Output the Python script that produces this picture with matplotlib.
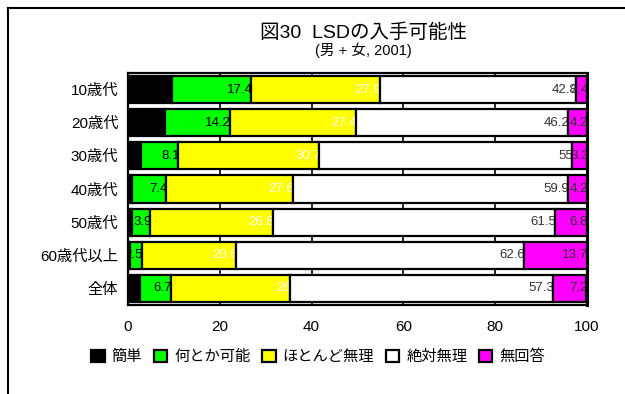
import numpy as np
import matplotlib
matplotlib.use('Agg')
import matplotlib.pyplot as plt
from matplotlib.patches import Patch
from matplotlib.lines import Line2D

plt.rcParams['font.family'] = ['Liberation Sans', 'Noto Sans CJK JP']

# LSD availability by age group, percent (male + female, 2001)
categories = ['10歳代', '20歳代', '30歳代', '40歳代', '50歳代', '60歳代以上', '全体']
easy = [9.5, 8.0, 2.9, 0.9, 0.9, 0.5, 2.6]
possible = [17.4, 14.2, 8.1, 7.4, 3.9, 2.5, 6.7]
hardly = [27.9, 27.4, 30.7, 27.6, 26.8, 20.6, 26.0]
impossible = [42.8, 46.2, 55.0, 59.9, 61.5, 62.6, 57.3]
no_answer = [2.4, 4.2, 3.3, 4.2, 6.8, 13.7, 7.2]

series_names = ['簡単', '何とか可能', 'ほとんど無理', '絶対無理', '無回答']
series = [easy, possible, hardly, impossible, no_answer]
colors = ['#000000', '#00ff00', '#ffff00', '#ffffff', '#ff00ff']
text_colors = ['#000000', '#000000', '#ffffff', '#333333', '#333333']

fig = plt.figure(figsize=(6.25, 3.94), dpi=100)
ax = fig.add_axes([128 / 625, 1 - 305 / 394, 459 / 625, 232 / 394])

y = np.arange(len(categories))
left = np.zeros(len(categories))
for i, (vals, c) in enumerate(zip(series, colors)):
    vals = np.array(vals)
    ax.barh(y, vals, left=left, height=0.82, color=c, edgecolor='black',
            linewidth=1.6, zorder=3 + 2 * i)
    ends = left + vals
    # value labels sit at the right end of each segment; the next segment covers any overflow
    for yy, v, e in zip(y, vals, ends):
        ax.text(e + 0.3, yy, '%g' % v, ha='right', va='center', fontsize=9.5,
                color=text_colors[i], zorder=4 + 2 * i, clip_on=True)
    left = ends

ax.set_xlim(0, 100)
ax.set_ylim(len(categories) - 0.5, -0.5)
ax.set_yticks(y)
ax.set_yticklabels(categories, fontsize=11)
ax.set_xticks([0, 20, 40, 60, 80, 100])
ax.tick_params(length=0, labelsize=11)
ax.tick_params(axis='x', pad=11)
ax.tick_params(axis='y', pad=7)
ax.grid(axis='x', color='black', linewidth=1.2, zorder=1)
ax.set_axisbelow(True)
for sp in ax.spines.values():
    sp.set_linewidth(1.6)
    sp.set_zorder(20)
ax.spines['right'].set_linewidth(2.2)

fig.text(363 / 625, 1 - 33 / 394, '図30  LSDの入手可能性', ha='center', va='center', fontsize=14)
fig.text(363 / 625, 1 - 50 / 394, '(男 + 女, 2001)', ha='center', va='center', fontsize=10.5)

handles = [Patch(facecolor=c, edgecolor='black', linewidth=1.6) for c in colors]
fig.legend(handles, series_names, loc='center', bbox_to_anchor=(318 / 625, 1 - 357 / 394),
           ncol=5, frameon=False, fontsize=11, handlelength=0.9, handleheight=0.9,
           handletextpad=0.45, columnspacing=0.75, borderaxespad=0)

# outer frame (top and left edges)
fig.add_artist(Line2D([8 / 625, 1], [1 - 8 / 394, 1 - 8 / 394], color='black', linewidth=1.5))
fig.add_artist(Line2D([8 / 625, 8 / 625], [0, 1 - 8 / 394], color='black', linewidth=1.5))

fig.savefig('out.png', dpi=100)
